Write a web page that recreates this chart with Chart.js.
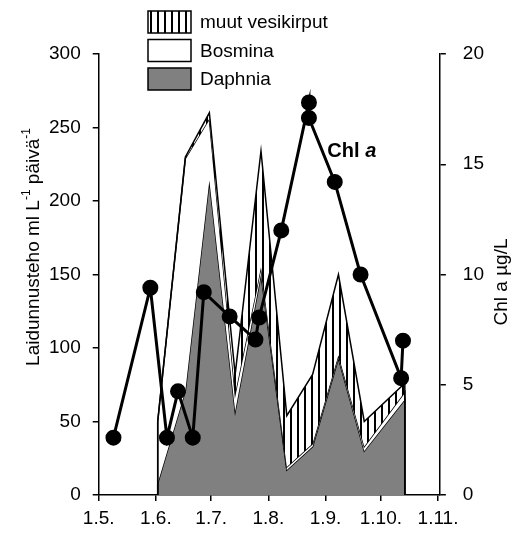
<!DOCTYPE html>
<html>
<head>
<meta charset="utf-8">
<script src="https://cdn.jsdelivr.net/npm/chart.js@4/dist/chart.umd.min.js"></script>
<style>
  body { margin: 0; background: #fff; }
</style>
</head>
<body>
<canvas id="chart" width="526" height="534"></canvas>
<script>
// data ---------------------------------------------------------------
var monthTicks = ['1.5.', '1.6.', '1.7.', '1.8.', '1.9.', '1.10.', '1.11.'];

var zooDates = ['2.6.', '17.6.', '30.6.', '14.7.', '28.7.', '11.8.', '25.8.', '8.9.', '22.9.', '14.10.'];
var daphnia = [8, 71, 214, 57, 150, 17, 33, 93, 30, 65];
var bosmina = [42, 158, 42, 12, 5, 2, 2, 2, 3, 5];
var muut    = [0, 1, 4, 13, 79, 35, 47, 55, 17, 6];

var chlDates  = ['9.5.', '29.5.', '7.6.', '13.6.', '21.6.', '27.6.', '11.7.', '25.7.', '27.7.', '8.8.', '23.8.', '23.8.', '6.9.', '20.9.', '12.10.', '13.10.'];
var chlValues = [2.6, 9.4, 2.6, 4.7, 2.6, 9.2, 8.1, 7.05, 8.05, 12.0, 17.8, 17.1, 14.2, 10.0, 5.3, 7.0];

var FONT = "'Liberation Sans', Arial, sans-serif";

// day of year from "d.m."
function doy(s) {
    var p = s.split('.');
    var d = new Date(2001, +p[1] - 1, +p[0]);
    return Math.round((d - new Date(2001, 0, 1)) / 86400000) + 1;
}

// stacked area outline, closed down to zero at both ends
function stackLine(parts) {
    var pts = [];
    var first = doy(zooDates[0]);
    var last = doy(zooDates[zooDates.length - 1]);
    pts.push({ x: first, y: 0 });
    zooDates.forEach(function (s, i) {
        var sum = 0;
        parts.forEach(function (arr) { sum += arr[i]; });
        pts.push({ x: doy(s), y: sum });
    });
    pts.push({ x: last, y: 0 });
    return pts;
}

var canvas = document.getElementById('chart');
var ctx = canvas.getContext('2d');

// vertical hatch for "muut vesikirput"
var tile = document.createElement('canvas');
tile.width = 7; tile.height = 7;
var tg = tile.getContext('2d');
tg.fillStyle = '#fff'; tg.fillRect(0, 0, 7, 7);
tg.fillStyle = '#000'; tg.fillRect(3, 0, 2, 7);
var hatch = ctx.createPattern(tile, 'repeat');

var legendItems = [
    { label: 'muut vesikirput', fill: hatch },
    { label: 'Bosmina', fill: '#fff' },
    { label: 'Daphnia', fill: '#808080' }
];

// titles, legend and the Chl a note
var extras = {
    id: 'extras',
    afterDraw: function (chart) {
        var c = chart.ctx;
        c.save();
        c.fillStyle = '#000';
        c.textBaseline = 'middle';

        // legend
        legendItems.forEach(function (it, i) {
            var y = 11 + i * 28.5;
            c.fillStyle = it.fill;
            c.fillRect(148, y, 43, 22);
            c.strokeStyle = '#000';
            c.lineWidth = 1.5;
            c.strokeRect(148, y, 43, 22);
            c.fillStyle = '#000';
            c.font = '19px ' + FONT;
            c.textAlign = 'left';
            c.fillText(it.label, 200, y + 12);
        });

        // left title with superscripts
        var parts = [
            { t: 'Laidunnusteho ml L', sup: false },
            { t: '-1', sup: true },
            { t: ' päivä', sup: false },
            { t: '-1', sup: true }
        ];
        var total = 0;
        parts.forEach(function (p) {
            c.font = (p.sup ? '12px ' : '19px ') + FONT;
            p.w = c.measureText(p.t).width;
            total += p.w;
        });
        c.translate(33, 247);
        c.rotate(-Math.PI / 2);
        var x = -total / 2;
        c.textAlign = 'left';
        parts.forEach(function (p) {
            c.font = (p.sup ? '12px ' : '19px ') + FONT;
            c.fillText(p.t, x, p.sup ? -6 : 1);
            x += p.w;
        });
        c.restore();

        // right title
        c.save();
        c.fillStyle = '#000';
        c.textBaseline = 'middle';
        c.textAlign = 'center';
        c.font = '19px ' + FONT;
        c.translate(502, 282);
        c.rotate(-Math.PI / 2);
        c.fillText('Chl a µg/L', 0, 0);
        c.restore();

        // Chl a note next to the line
        c.save();
        var sx = chart.scales.x.getPixelForValue(doy('2.9.'));
        var sy = chart.scales.y1.getPixelForValue(15.6);
        c.fillStyle = '#000';
        c.textBaseline = 'middle';
        c.textAlign = 'left';
        c.font = 'bold 20px ' + FONT;
        c.fillText('Chl ', sx, sy);
        var w = c.measureText('Chl ').width;
        c.font = 'italic bold 20px ' + FONT;
        c.fillText('a', sx + w, sy);
        c.restore();
    }
};

var chart = new Chart(ctx, {
    type: 'line',
    data: {
        datasets: [{
            label: 'Chl a',
            yAxisID: 'y1',
            data: chlDates.map(function (s, i) { return { x: doy(s), y: chlValues[i] }; }),
            borderColor: '#000',
            borderWidth: 3,
            pointRadius: 6.5,
            pointBackgroundColor: '#000',
            pointBorderColor: '#000',
            fill: false,
            order: 0
        }, {
            label: 'Daphnia',
            yAxisID: 'y',
            data: stackLine([daphnia]),
            borderColor: '#000',
            borderWidth: 1.5,
            backgroundColor: '#808080',
            pointRadius: 0,
            fill: 'origin',
            order: 3
        }, {
            label: 'Bosmina',
            yAxisID: 'y',
            data: stackLine([daphnia, bosmina]),
            borderColor: '#000',
            borderWidth: 1.5,
            backgroundColor: '#fff',
            pointRadius: 0,
            fill: 1,
            order: 2
        }, {
            label: 'muut vesikirput',
            yAxisID: 'y',
            data: stackLine([daphnia, bosmina, muut]),
            borderColor: '#000',
            borderWidth: 1.5,
            backgroundColor: hatch,
            pointRadius: 0,
            fill: 2,
            order: 1
        }]
    },
    options: {
        responsive: false,
        animation: false,
        layout: { padding: { left: 37, right: 25, top: 54, bottom: -2 } },
        elements: { line: { tension: 0 } },
        plugins: {
            legend: { display: false },
            tooltip: { enabled: false }
        },
        scales: {
            x: {
                type: 'linear',
                min: doy(monthTicks[0]),
                max: doy(monthTicks[monthTicks.length - 1]) + 1,
                afterBuildTicks: function (axis) {
                    axis.ticks = monthTicks.map(function (s) { return { value: doy(s) }; });
                },
                ticks: {
                    autoSkip: false,
                    maxRotation: 0,
                    padding: 8,
                    color: '#000',
                    font: { family: FONT, size: 19, lineHeight: 1 },
                    callback: function (v) {
                        var i = monthTicks.map(doy).indexOf(v);
                        return i >= 0 ? monthTicks[i] : '';
                    }
                },
                grid: { drawOnChartArea: false, drawTicks: true, tickLength: 6, color: '#000', lineWidth: 1.5 },
                border: { display: true, color: '#000', width: 1.5 }
            },
            y: {
                position: 'left',
                min: 0,
                max: 300,
                ticks: {
                    stepSize: 50,
                    padding: 12,
                    color: '#000',
                    font: { family: FONT, size: 19 }
                },
                grid: { drawOnChartArea: false, drawTicks: true, tickLength: 6, color: '#000', lineWidth: 1.5 },
                border: { display: true, color: '#000', width: 1.5 }
            },
            y1: {
                position: 'right',
                min: 0,
                max: 20,
                ticks: {
                    stepSize: 5,
                    padding: 17,
                    color: '#000',
                    font: { family: FONT, size: 19 }
                },
                grid: { drawOnChartArea: false, drawTicks: true, tickLength: 6, color: '#000', lineWidth: 1.5 },
                border: { display: true, color: '#000', width: 1.5 }
            }
        }
    },
    plugins: [extras]
});
</script>
</body>
</html>
